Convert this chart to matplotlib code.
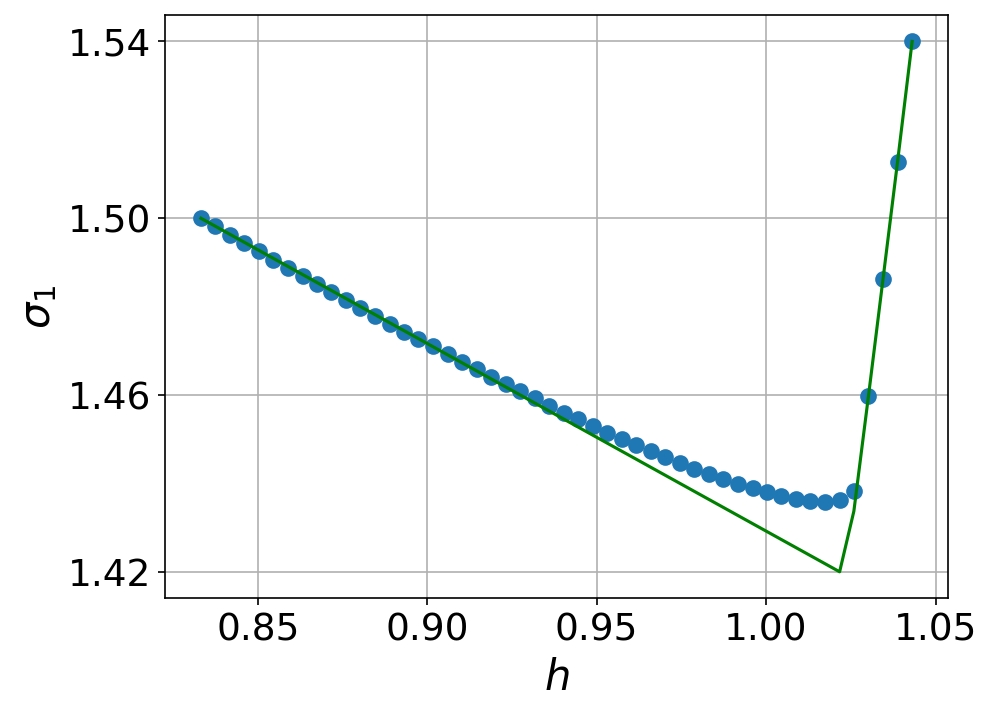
import matplotlib
matplotlib.use("Agg")
import matplotlib.pyplot as plt

# valores
h = [0.8332, 0.8375, 0.8418, 0.8460, 0.8503, 0.8546, 0.8589, 0.8632, 0.8675, 0.8717,
     0.8760, 0.8803, 0.8846, 0.8889, 0.8932, 0.8974, 0.9017, 0.9060, 0.9103, 0.9146,
     0.9189, 0.9231, 0.9274, 0.9317, 0.9360, 0.9403, 0.9446, 0.9488, 0.9531, 0.9574,
     0.9617, 0.9660, 0.9703, 0.9745, 0.9788, 0.9831, 0.9874, 0.9917, 0.9960, 1.0002,
     1.0045, 1.0088, 1.0131, 1.0174, 1.0217, 1.0259, 1.0302, 1.0345, 1.0388, 1.0431]
sigma1 = [1.5000, 1.4982, 1.4963, 1.4944, 1.4925, 1.4906, 1.4887, 1.4869, 1.4851, 1.4832,
          1.4814, 1.4796, 1.4779, 1.4761, 1.4743, 1.4726, 1.4710, 1.4692, 1.4674, 1.4658,
          1.4641, 1.4625, 1.4609, 1.4593, 1.4576, 1.4560, 1.4545, 1.4529, 1.4515, 1.4500,
          1.4486, 1.4473, 1.4459, 1.4446, 1.4433, 1.4422, 1.4410, 1.4399, 1.4389, 1.4380,
          1.4372, 1.4365, 1.4361, 1.4359, 1.4363, 1.4382, 1.4597, 1.4862, 1.5128, 1.5400]

# curva teórica (verde)
h_teo = [0.8332, 1.0217, 1.0259, 1.0302, 1.0345, 1.0388, 1.0431]
sigma_teo = [1.5000, 1.4200, 1.4337, 1.4597, 1.4862, 1.5128, 1.5400]

fig = plt.figure(figsize=(6.64, 4.767), dpi=150)
ax = fig.add_axes([0.166, 0.1632, 0.7855, 0.8158])
ax.plot(h, sigma1, 'o', color='#1f77b4', markersize=7)
ax.plot(h_teo, sigma_teo, color='g', linewidth=1.5)
ax.set_yticks([1.42, 1.46, 1.50, 1.54])
ax.tick_params(labelsize=18)
ax.set_xlabel('$h$', fontsize=20)
ax.set_ylabel(r'$\sigma_1$', fontsize=20)
ax.grid(True)
fig.savefig('out.png', dpi=150)
